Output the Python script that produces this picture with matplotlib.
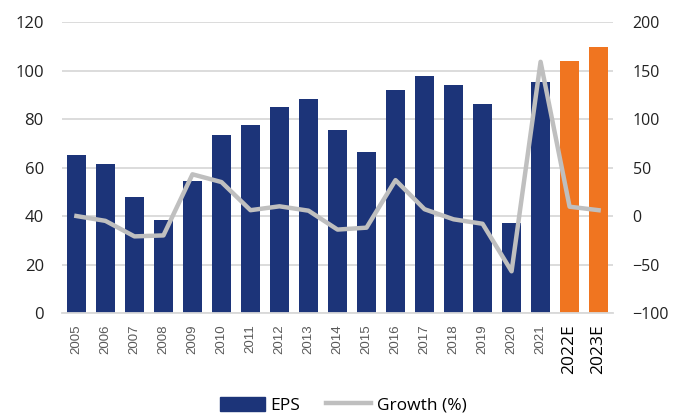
import matplotlib
matplotlib.use("Agg")
import matplotlib.pyplot as plt
import numpy as np
from matplotlib.patches import Patch
from matplotlib.lines import Line2D

plt.rcParams['font.family'] = ['Open Sans', 'DejaVu Sans']

# data
years = ['2005', '2006', '2007', '2008', '2009', '2010', '2011', '2012', '2013', '2014',
         '2015', '2016', '2017', '2018', '2019', '2020', '2021', '2022E', '2023E']
eps = [65, 61.4, 48, 38.2, 54.6, 73.4, 77.7, 85, 88.4, 75.6,
       66.5, 92, 97.9, 94, 86.2, 37, 95.4, 103.9, 109.8]
growth = [0, -5, -21, -20, 43, 35, 6, 10, 5.5, -14,
          -12, 37, 7, -3.4, -8, -57, 159, 9.6, 6]
is_estimate = [y.endswith('E') for y in years]

blue = '#1c3479'
orange = '#f07520'
grey_line = '#bfbfbf'

fig = plt.figure(figsize=(6.73, 4.16), dpi=100)
ax = fig.add_axes([0.092, 0.2476, 0.819, 0.6994])
x = np.arange(len(years))
colors = [orange if e else blue for e in is_estimate]
ax.bar(x, eps, width=0.65, color=colors, zorder=2)

ax.set_ylim(0, 120)
ax.set_yticks(range(0, 121, 20))
ax.set_xlim(-0.5, len(years) - 0.5)
ax.yaxis.grid(True, color='#d9d9d9', linewidth=1.3, zorder=0)
ax.set_axisbelow(True)
for s in ['top', 'right', 'left']:
    ax.spines[s].set_visible(False)
ax.spines['bottom'].set_color('#d9d9d9')
ax.spines['bottom'].set_linewidth(1.3)
ax.tick_params(axis='y', length=0, labelsize=12, colors='#222222', pad=13)
ax.tick_params(axis='x', length=0, pad=8)
ax.set_xticks(x)
ax.set_xticklabels(years, rotation=90)
for lbl, e in zip(ax.get_xticklabels(), is_estimate):
    if e:
        lbl.set_fontsize(12.5)
        lbl.set_color('black')
    else:
        lbl.set_fontfamily('Liberation Sans')
        lbl.set_fontsize(9.5)
        lbl.set_color('#595959')

ax2 = ax.twinx()
ax2.plot(x, growth, color=grey_line, linewidth=3.2, zorder=3)
ax2.set_ylim(-100, 200)
ax2.set_yticks(range(-100, 201, 50))
for s in ['top', 'right', 'left', 'bottom']:
    ax2.spines[s].set_visible(False)
ax2.tick_params(axis='y', length=0, labelsize=11.5, colors='#222222', pad=14)

handles = [Patch(color=blue, label='EPS'),
           Line2D([0], [0], color=grey_line, linewidth=3.2, label='Growth (%)')]
fig.legend(handles=handles, loc='center', bbox_to_anchor=(0.51, 0.026), ncol=2,
           frameon=False, fontsize=12.5, handlelength=2.6, handleheight=0.9,
           columnspacing=1.5, handletextpad=0.3)

fig.savefig('out.png', dpi=100)
